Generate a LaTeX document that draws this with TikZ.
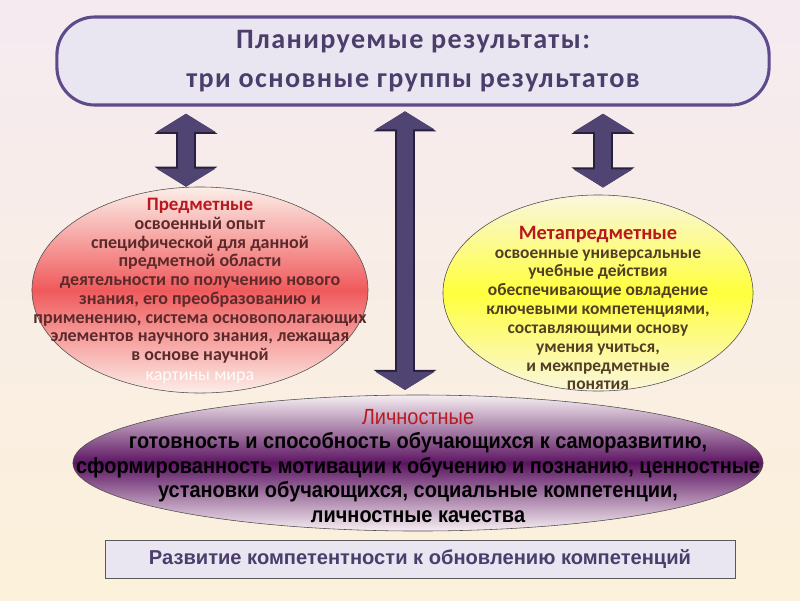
\documentclass[tikz,border=0pt]{standalone}
\usepackage{fontspec}
\setmainfont{Carlito}
\newfontfamily\titlefont[LetterSpace=5]{Carlito}
\newfontfamily\arialfont{Liberation Sans}
\newfontfamily\narrowfont[FakeStretch=0.91]{Liberation Sans}
\usetikzlibrary{arrows.meta,shapes.geometric}
\definecolor{ttlfill}{RGB}{233,230,242}
\definecolor{ttlline}{RGB}{94,75,139}
\definecolor{ttltext}{RGB}{75,62,107}
\definecolor{arrfill}{RGB}{80,68,114}
\definecolor{arrline}{RGB}{40,32,62}
\definecolor{redhead}{RGB}{185,25,30}
\definecolor{predtxt}{RGB}{92,42,42}
\definecolor{metatxt}{RGB}{82,62,36}
\definecolor{predmid}{RGB}{240,90,92}
\definecolor{predtop}{RGB}{252,238,232}
\definecolor{metamid}{RGB}{255,255,60}
\definecolor{metatop}{RGB}{250,246,222}
\definecolor{lichmid}{RGB}{92,20,98}
\definecolor{lichtop}{RGB}{246,238,242}
\definecolor{bgtop}{RGB}{245,234,240}
\definecolor{bgbot}{RGB}{252,241,218}

\begin{document}
\begin{tikzpicture}[x=0.025cm,y=-0.025cm,
    fatarrow/.style={line width=0.42cm,draw=arrfill,
      {Triangle[width=1.45cm,length=0.45cm]}-{Triangle[width=1.45cm,length=0.45cm]},
      preaction={draw=arrline,line width=0.48cm,
        {Triangle[width=1.55cm,length=0.5cm]}-{Triangle[width=1.55cm,length=0.5cm]}}},
    oval/.style={ellipse,draw=black!70,thin,inner sep=0pt},
    bodytext/.style={align=center,inner sep=0pt}]
      % Background
      \useasboundingbox (0,0) rectangle (800,600);
      \shade[top color=bgtop,bottom color=bgbot] (0,0) rectangle (800,600);
      % Heading
      \node[draw=ttlline,line width=2.2pt,fill=ttlfill,rounded corners=0.95cm,
        minimum width=17.8cm,minimum height=2.2cm,text=ttltext,align=center,
        font=\titlefont\fontsize{20}{27}\selectfont\bfseries] (title) at (413,61)
        {Планируемые результаты:\\[1pt]три основные группы результатов};
      % Three groups
      \node[oval,minimum width=8.4cm,minimum height=5.15cm,
        top color=predtop,bottom color=predtop,middle color=predmid] (pred) at (200,290) {};
      \node[oval,minimum width=7.75cm,minimum height=4.9cm,
        top color=metatop,bottom color=metatop,middle color=metamid] (meta) at (598,293) {};
      \node[oval,minimum width=17.25cm,minimum height=3.4cm,
        top color=lichtop,bottom color=lichtop,middle color=lichmid] (lich) at (418,463) {};
      \node[bodytext,text=predtxt,font=\fontsize{12.8}{13.3}\selectfont\bfseries] (predtext) at (200,291)
        {{\color{redhead}\fontsize{13.5}{13.3}\selectfont Предметные}\\
         освоенный опыт\\
         специфической для данной\\
         предметной области\\
         деятельности по получению нового\\
         знания, его преобразованию и\\
         применению, система основополагающих\\
         элементов научного знания, лежащая\\
         в основе научной\\[1pt]
         {\mdseries\color{white!80!predtop}картины мира}};
      \node[bodytext,text=metatxt,font=\fontsize{12.4}{13.4}\selectfont\bfseries] (metatext) at (598,308)
        {{\color{redhead}\fontsize{14.5}{13.4}\selectfont Метапредметные}\\
         освоенные универсальные\\
         учебные действия\\
         обеспечивающие овладение\\
         ключевыми компетенциями,\\
         составляющими основу\\
         умения учиться,\\
         и межпредметные\\
         понятия};
      \node[bodytext,font=\narrowfont\fontsize{15.6}{17.4}\selectfont\bfseries] (lichtext) at (418,466)
        {{\mdseries\color{redhead}Личностные}\\
         готовность и способность обучающихся к саморазвитию,\\
         сформированность мотивации к обучению и познанию, ценностные\\
         установки обучающихся, социальные компетенции,\\
         личностные качества};
      % Arrows from the heading
      \coordinate (al) at (186,0);
      \coordinate (am) at (405,0);
      \coordinate (ar) at (603,0);
      \draw[fatarrow,shorten <=0.18cm] (title.south -| al) -- (pred.north -| al);
      \draw[fatarrow,shorten <=0.12cm,shorten >=0.12cm] (title.south -| am) -- (lich.north -| am);
      \draw[fatarrow,shorten <=0.18cm,shorten >=0.18cm] (title.south -| ar) -- (meta.north -| ar);
      % Bottom line
      \node[draw=black!65,fill=ttlfill,minimum width=15.75cm,minimum height=0.95cm,
        text=ttltext,font=\arialfont\fontsize{14.3}{16}\selectfont\bfseries] (razv) at (420,559)
        {Развитие компетентности к обновлению компетенций};
\end{tikzpicture}
\end{document}
